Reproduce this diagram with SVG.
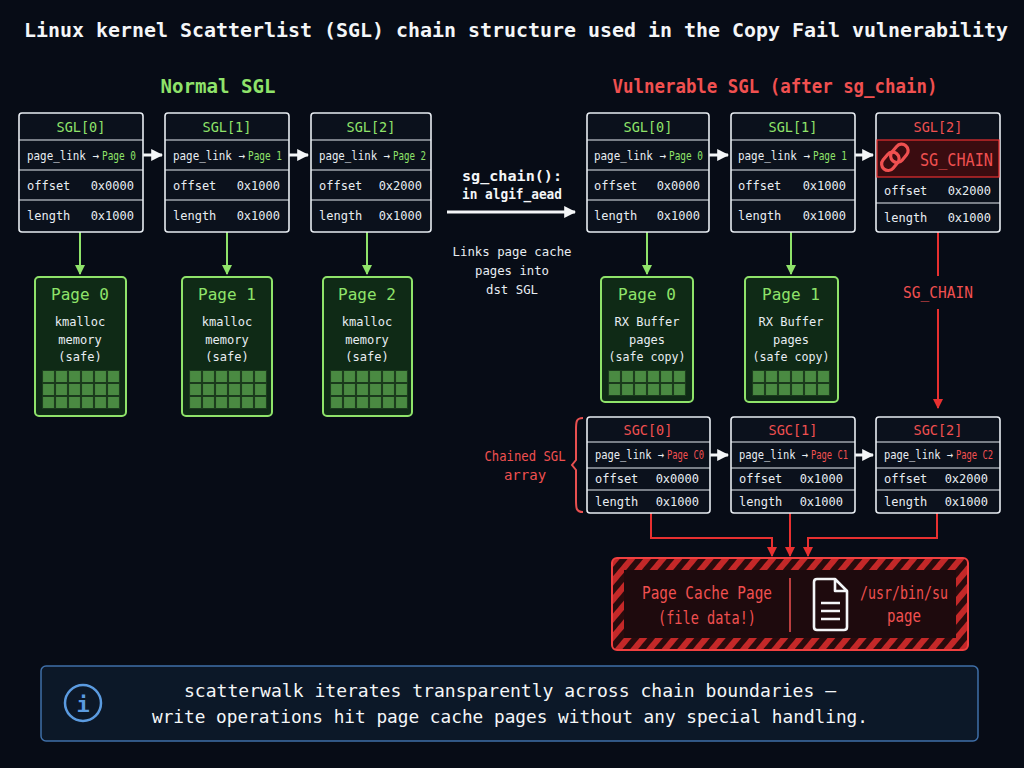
<svg xmlns="http://www.w3.org/2000/svg" width="1024" height="768" viewBox="0 0 1024 768">
<defs>
<style>
text{font-family:"DejaVu Sans Mono","Liberation Mono",monospace;}
.box{fill:#0b111c;stroke:#e8edf2;stroke-width:1.6}
.ln{stroke:#e8edf2;stroke-width:1}
.t{fill:#e8edf2;font-size:12px}
.g{fill:#8fe36a}
.r{fill:#f05050}
.hd{font-size:13.5px;text-anchor:middle}
.pg{fill:#0f2a16;stroke:#8fe36a;stroke-width:2}
.garr{stroke:#8fe36a;stroke-width:2;fill:none;marker-end:url(#ga)}
.rarr{stroke:#e83030;stroke-width:2;fill:none;marker-end:url(#ra)}
.warr{stroke:#f4f6f8;stroke-width:3;fill:none;marker-end:url(#wa)}
</style>
<marker id="ga" viewBox="0 0 10 10" refX="9" refY="5" markerWidth="5" markerHeight="5" orient="auto"><path d="M0,0L10,5L0,10z" fill="#8fe36a"/></marker>
<marker id="ra" viewBox="0 0 10 10" refX="9" refY="5" markerWidth="5" markerHeight="5" orient="auto"><path d="M0,0L10,5L0,10z" fill="#e83030"/></marker>
<marker id="wa" viewBox="0 0 10 10" refX="9" refY="5" markerWidth="4" markerHeight="4" orient="auto"><path d="M0,0L10,5L0,10z" fill="#f4f6f8"/></marker>
<pattern id="hatch" width="12" height="12" patternUnits="userSpaceOnUse" patternTransform="rotate(40)"><rect width="12" height="12" fill="#2a0b0d"/><rect width="6" height="12" fill="#c42828"/></pattern>
<pattern id="grid3" width="0.16667" height="0.33333" patternUnits="objectBoundingBox"><rect x="0.5" y="0.5" width="12" height="12" fill="#4a8a42" stroke="#1a3a1c"/></pattern>
<pattern id="grid2" width="0.16667" height="0.5" patternUnits="objectBoundingBox"><rect x="0.5" y="0.5" width="12" height="12" fill="#4a8a42" stroke="#1a3a1c"/></pattern>
</defs>
<rect width="1024" height="768" fill="#070c16"/>
<text x="516" y="37" text-anchor="middle" font-size="20" font-weight="bold" fill="#f4f6f8" textLength="984" lengthAdjust="spacingAndGlyphs">Linux kernel Scatterlist (SGL) chain structure used in the Copy Fail vulnerability</text>
<text x="218" y="93" text-anchor="middle" font-size="20" font-weight="bold" class="g" textLength="115" lengthAdjust="spacingAndGlyphs">Normal SGL</text>
<text x="775" y="93" text-anchor="middle" font-size="20" font-weight="bold" class="r" textLength="325" lengthAdjust="spacingAndGlyphs">Vulnerable SGL (after sg_chain)</text>

<g id="connectors">
<path class="warr" d="M143,155H162"/><path class="warr" d="M289,155H308"/>
<path class="garr" d="M80,232V274"/><path class="garr" d="M227,232V274"/><path class="garr" d="M367,232V274"/>
<path class="warr" d="M447,212H575"/>
<path class="warr" d="M709,155H728"/><path class="warr" d="M855,155H873"/>
<path class="garr" d="M647,232V274"/><path class="garr" d="M791,232V274"/>
<path stroke="#e83030" stroke-width="2" d="M938,232V276"/><path class="rarr" d="M938,309V408"/>
<path class="warr" d="M710,455H728"/><path class="warr" d="M855,455H873"/>
<path class="rarr" d="M651,513V538H772V556"/><path class="rarr" d="M790,513V556"/><path class="rarr" d="M937,513V538H808V556"/>
</g>
<text x="512" y="181" text-anchor="middle" font-size="14" font-weight="bold" fill="#f4f6f8" textLength="100" lengthAdjust="spacingAndGlyphs">sg_chain():</text>
<text x="512" y="199" text-anchor="middle" font-size="14" font-weight="bold" fill="#f4f6f8" textLength="100" lengthAdjust="spacingAndGlyphs">in algif_aead</text>
<text x="512" y="256" text-anchor="middle" class="t" font-size="14" textLength="119" lengthAdjust="spacingAndGlyphs">Links page cache</text>
<text x="512" y="275" text-anchor="middle" class="t" font-size="14" textLength="74" lengthAdjust="spacingAndGlyphs">pages into</text>
<text x="512" y="294" text-anchor="middle" class="t" font-size="14" textLength="52" lengthAdjust="spacingAndGlyphs">dst SGL</text>
<text x="938" y="298" text-anchor="middle" font-size="16" class="r" textLength="70" lengthAdjust="spacingAndGlyphs">SG_CHAIN</text>

<g id="nsgl0"><rect class="box" x="19" y="113" width="124" height="119" rx="3"/><path class="ln" d="M19,140H143M19,170H143M19,200H143"/>
<text class="g hd" x="81" y="132">SGL[0]</text><text class="t" x="27" y="160" textLength="72" lengthAdjust="spacingAndGlyphs">page_link →</text><text class="t g" x="102" y="160" textLength="34" lengthAdjust="spacingAndGlyphs">Page 0</text><text class="t" x="27" y="190">offset</text><text class="t" x="134" y="190" text-anchor="end">0x0000</text><text class="t" x="27" y="220">length</text><text class="t" x="134" y="220" text-anchor="end">0x1000</text></g>
<g id="nsgl1"><rect class="box" x="165" y="113" width="124" height="119" rx="3"/><path class="ln" d="M165,140H289M165,170H289M165,200H289"/>
<text class="g hd" x="227" y="132">SGL[1]</text><text class="t" x="173" y="160" textLength="72" lengthAdjust="spacingAndGlyphs">page_link →</text><text class="t g" x="248" y="160" textLength="34" lengthAdjust="spacingAndGlyphs">Page 1</text><text class="t" x="173" y="190">offset</text><text class="t" x="280" y="190" text-anchor="end">0x1000</text><text class="t" x="173" y="220">length</text><text class="t" x="280" y="220" text-anchor="end">0x1000</text></g>
<g id="nsgl2"><rect class="box" x="311" y="113" width="120" height="119" rx="3"/><path class="ln" d="M311,140H431M311,170H431M311,200H431"/>
<text class="g hd" x="371" y="132">SGL[2]</text><text class="t" x="319" y="160" textLength="71" lengthAdjust="spacingAndGlyphs">page_link →</text><text class="t g" x="393" y="160" textLength="33" lengthAdjust="spacingAndGlyphs">Page 2</text><text class="t" x="319" y="190">offset</text><text class="t" x="422" y="190" text-anchor="end">0x2000</text><text class="t" x="319" y="220">length</text><text class="t" x="422" y="220" text-anchor="end">0x1000</text></g>

<g id="npage0"><rect class="pg" x="35" y="277" width="91" height="139" rx="4"/><text class="g" x="80" y="300" text-anchor="middle" font-size="16">Page 0</text><text class="t" font-size="15" text-anchor="middle" x="80" y="326">kmalloc</text><text class="t" font-size="15" text-anchor="middle" x="80" y="344">memory</text><text class="t" font-size="15" text-anchor="middle" x="80" y="361">(safe)</text><rect x="42" y="370" width="78" height="39" fill="url(#grid3)"/></g>
<g id="npage1"><rect class="pg" x="182" y="277" width="90" height="139" rx="4"/><text class="g" x="227" y="300" text-anchor="middle" font-size="16">Page 1</text><text class="t" font-size="15" text-anchor="middle" x="227" y="326">kmalloc</text><text class="t" font-size="15" text-anchor="middle" x="227" y="344">memory</text><text class="t" font-size="15" text-anchor="middle" x="227" y="361">(safe)</text><rect x="189" y="370" width="78" height="39" fill="url(#grid3)"/></g>
<g id="npage2"><rect class="pg" x="323" y="277" width="89" height="139" rx="4"/><text class="g" x="367" y="300" text-anchor="middle" font-size="16">Page 2</text><text class="t" font-size="15" text-anchor="middle" x="367" y="326">kmalloc</text><text class="t" font-size="15" text-anchor="middle" x="367" y="344">memory</text><text class="t" font-size="15" text-anchor="middle" x="367" y="361">(safe)</text><rect x="330" y="370" width="78" height="39" fill="url(#grid3)"/></g>

<g id="vsgl0"><rect class="box" x="587" y="113" width="122" height="119" rx="3"/><path class="ln" d="M587,140H709M587,170H709M587,200H709"/>
<text class="g hd" x="648" y="132">SGL[0]</text><text class="t" x="594" y="160" textLength="72" lengthAdjust="spacingAndGlyphs">page_link →</text><text class="t g" x="669" y="160" textLength="34" lengthAdjust="spacingAndGlyphs">Page 0</text><text class="t" x="594" y="190">offset</text><text class="t" x="700" y="190" text-anchor="end">0x0000</text><text class="t" x="594" y="220">length</text><text class="t" x="700" y="220" text-anchor="end">0x1000</text></g>
<g id="vsgl1"><rect class="box" x="731" y="113" width="124" height="119" rx="3"/><path class="ln" d="M731,140H855M731,170H855M731,200H855"/>
<text class="g hd" x="793" y="132">SGL[1]</text><text class="t" x="738" y="160" textLength="72" lengthAdjust="spacingAndGlyphs">page_link →</text><text class="t g" x="813" y="160" textLength="34" lengthAdjust="spacingAndGlyphs">Page 1</text><text class="t" x="738" y="190">offset</text><text class="t" x="846" y="190" text-anchor="end">0x1000</text><text class="t" x="738" y="220">length</text><text class="t" x="846" y="220" text-anchor="end">0x1000</text></g>
<g id="vsgl2"><rect class="box" x="876" y="113" width="124" height="119" rx="3"/><rect x="877" y="140" width="122" height="37" fill="#3a0c10" stroke="#e83030" stroke-width="1.2"/><path class="ln" d="M876,203H1000"/>
<text class="r hd" x="938" y="132">SGL[2]</text>
<g fill="none" stroke="#f05050" stroke-width="3.2" stroke-linecap="round"><rect x="884" y="151" width="13" height="20" rx="6.5" transform="rotate(40 890 161)"/><rect x="893" y="143" width="13" height="20" rx="6.5" transform="rotate(40 899 153)"/></g>
<text class="r" x="920" y="166" font-size="17" textLength="73" lengthAdjust="spacingAndGlyphs">SG_CHAIN</text>
<text class="t" x="884" y="195">offset</text><text class="t" x="991" y="195" text-anchor="end">0x2000</text><text class="t" x="884" y="222">length</text><text class="t" x="991" y="222" text-anchor="end">0x1000</text></g>

<g id="vpage0"><rect class="pg" x="601" y="277" width="92" height="125" rx="4"/><text class="g" x="647" y="300" text-anchor="middle" font-size="16">Page 0</text><text class="t" font-size="15" text-anchor="middle" x="647" y="326" textLength="65" lengthAdjust="spacingAndGlyphs">RX Buffer</text><text class="t" font-size="15" text-anchor="middle" x="647" y="344">pages</text><text class="t" font-size="15" text-anchor="middle" x="647" y="361" textLength="77" lengthAdjust="spacingAndGlyphs">(safe copy)</text><rect x="608" y="370" width="78" height="26" fill="url(#grid2)"/></g>
<g id="vpage1"><rect class="pg" x="745" y="277" width="93" height="125" rx="4"/><text class="g" x="791" y="300" text-anchor="middle" font-size="16">Page 1</text><text class="t" font-size="15" text-anchor="middle" x="791" y="326" textLength="65" lengthAdjust="spacingAndGlyphs">RX Buffer</text><text class="t" font-size="15" text-anchor="middle" x="791" y="344">pages</text><text class="t" font-size="15" text-anchor="middle" x="791" y="361" textLength="77" lengthAdjust="spacingAndGlyphs">(safe copy)</text><rect x="752" y="370" width="78" height="26" fill="url(#grid2)"/></g>

<text class="r" x="525" y="461" text-anchor="middle" font-size="14" textLength="81" lengthAdjust="spacingAndGlyphs">Chained SGL</text>
<text class="r" x="525" y="480" text-anchor="middle" font-size="14">array</text>
<path d="M583,418C576,418 576,422 576,430V460L572,465L576,470V500C576,508 576,512 583,512" fill="none" stroke="#e85050" stroke-width="2"/>

<g id="sgc0"><rect class="box" x="587" y="417" width="123" height="96" rx="3"/><path class="ln" d="M587,442H710M587,468H710M587,490H710"/>
<text class="r hd" x="648" y="435">SGC[0]</text><text class="t" font-size="11" x="595" y="459" textLength="69" lengthAdjust="spacingAndGlyphs">page_link →</text><text class="t r" font-size="11" x="667" y="459" textLength="37" lengthAdjust="spacingAndGlyphs">Page C0</text><text class="t" font-size="11.5" x="595" y="483">offset</text><text class="t" font-size="11.5" x="699" y="483" text-anchor="end">0x0000</text><text class="t" font-size="11.5" x="595" y="506">length</text><text class="t" font-size="11.5" x="699" y="506" text-anchor="end">0x1000</text></g>
<g id="sgc1"><rect class="box" x="731" y="417" width="124" height="96" rx="3"/><path class="ln" d="M731,442H855M731,468H855M731,490H855"/>
<text class="r hd" x="793" y="435">SGC[1]</text><text class="t" font-size="11" x="739" y="459" textLength="69" lengthAdjust="spacingAndGlyphs">page_link →</text><text class="t r" font-size="11" x="811" y="459" textLength="37" lengthAdjust="spacingAndGlyphs">Page C1</text><text class="t" font-size="11.5" x="739" y="483">offset</text><text class="t" font-size="11.5" x="843" y="483" text-anchor="end">0x1000</text><text class="t" font-size="11.5" x="739" y="506">length</text><text class="t" font-size="11.5" x="843" y="506" text-anchor="end">0x1000</text></g>
<g id="sgc2"><rect class="box" x="876" y="417" width="124" height="96" rx="3"/><path class="ln" d="M876,442H1000M876,468H1000M876,490H1000"/>
<text class="r hd" x="938" y="435">SGC[2]</text><text class="t" font-size="11" x="884" y="459" textLength="69" lengthAdjust="spacingAndGlyphs">page_link →</text><text class="t r" font-size="11" x="956" y="459" textLength="37" lengthAdjust="spacingAndGlyphs">Page C2</text><text class="t" font-size="11.5" x="884" y="483">offset</text><text class="t" font-size="11.5" x="988" y="483" text-anchor="end">0x2000</text><text class="t" font-size="11.5" x="884" y="506">length</text><text class="t" font-size="11.5" x="988" y="506" text-anchor="end">0x1000</text></g>

<g id="pagecache"><rect x="612" y="558" width="356" height="92" rx="5" fill="url(#hatch)" stroke="#f04040" stroke-width="2"/><rect x="624" y="570" width="332" height="68" fill="#1e0a0d"/>
<path d="M790,578V632" stroke="#f05050" stroke-width="1.5"/>
<text class="r" x="707" y="599" text-anchor="middle" font-size="17" textLength="130" lengthAdjust="spacingAndGlyphs">Page Cache Page</text><text class="r" x="707" y="624" text-anchor="middle" font-size="17" textLength="98" lengthAdjust="spacingAndGlyphs">(file data!)</text>
<path d="M817,579H835L847,591V627Q847,630 844,630H817Q814,630 814,627V582Q814,579 817,579ZM835,579V591H847M821,603H840M821,611H840M821,619H840" fill="none" stroke="#f4f6f8" stroke-width="2.6" stroke-linejoin="round"/>
<text class="r" x="904" y="599" text-anchor="middle" font-size="17" textLength="88" lengthAdjust="spacingAndGlyphs">/usr/bin/su</text><text class="r" x="904" y="622" text-anchor="middle" font-size="17" textLength="34" lengthAdjust="spacingAndGlyphs">page</text></g>

<g id="info"><rect x="41" y="666" width="937" height="75" rx="5" fill="#0c1828" stroke="#3f6fa8" stroke-width="1.5"/>
<circle cx="83" cy="703" r="18" fill="none" stroke="#5b9be0" stroke-width="2.5"/><text x="83" y="712" text-anchor="middle" font-size="22" font-weight="bold" fill="#5b9be0">i</text>
<text x="510" y="697" text-anchor="middle" font-size="18" fill="#f4f6f8" textLength="652" lengthAdjust="spacingAndGlyphs">scatterwalk  iterates transparently across chain boundaries —</text>
<text x="510" y="723" text-anchor="middle" font-size="18" fill="#f4f6f8" textLength="716" lengthAdjust="spacingAndGlyphs">write operations hit page cache pages without any special handling.</text></g>
</svg>
